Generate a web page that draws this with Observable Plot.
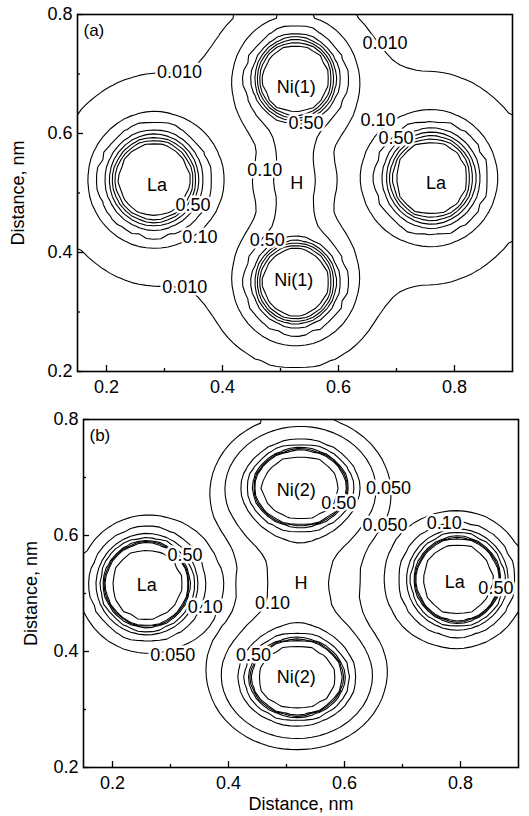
<!DOCTYPE html>
<html>
<head>
<meta charset="utf-8">
<script src="https://cdn.jsdelivr.net/npm/d3@7"></script>
<script src="https://cdn.jsdelivr.net/npm/@observablehq/plot@0.6"></script>
<style>
  body { margin: 0; background: #fff; }
  #chart { width: 529px; height: 816px; }
  #chart svg { display: block; }
</style>
</head>
<body>
<div id="chart"></div>
<script>
// ---------- axis ticks ----------
const majorTicks = [0.2, 0.4, 0.6, 0.8];
const minorTicks = [0.3, 0.5, 0.7];
const xDomain = [0.15, 0.9];
const yDomain = [0.2, 0.8];

// ---------- panel (a): atom sites ----------
const atomKindA = ["La", "La", "Ni", "Ni", "H"];
const atomXA = [0.282, 0.760, 0.526, 0.526, 0.524];
const atomYA = [0.522, 0.525, 0.692, 0.350, 0.521];
const atomStretchA = [1, 1, 1, 1, 0.72];       // vertical stretch of each site's rings
// contour levels drawn in (a)
const levelsA = [0.010, 0.050, 0.10, 0.50, 1.0, 1.5, 2.0, 2.5];
// radial density profiles read from ring radii (nm -> density)
const laRadiusA = [0, 0.063, 0.067, 0.071, 0.077, 0.084, 0.094, 0.114, 0.140, 0.180, 0.260, 0.400];
const laDensityA = [6, 2.5, 2.0, 1.5, 1.0, 0.5, 0.10, 0.05, 0.020, 0.0085, 0.002, 0];
const niRadiusA = [0, 0.058, 0.062, 0.066, 0.070, 0.075, 0.085, 0.106, 0.122, 0.142, 0.220, 0.350];
const niDensityA = [6, 2.5, 2.0, 1.5, 1.0, 0.5, 0.10, 0.05, 0.028, 0.010, 0.0015, 0];
const hRadiusA = [0, 0.043, 0.060, 0.072, 0.100, 0.150, 0.220];
const hDensityA = [0.12, 0.078, 0.052, 0.030, 0.011, 0.002, 0];
// labels in (a)
const labelTextA = ["0.010", "0.010", "0.50", "0.10", "0.50", "0.10", "0.50", "0.10", "0.50", "0.010"];
const labelXA = [0.326, 0.680, 0.544, 0.668, 0.699, 0.473, 0.349, 0.361, 0.477, 0.335];
const labelYA = [0.703, 0.751, 0.618, 0.622, 0.592, 0.538, 0.479, 0.425, 0.420, 0.341];
const atomLabelA = ["Ni(1)", "La", "H", "La", "Ni(1)"];
const atomLabelXA = [0.527, 0.287, 0.528, 0.768, 0.523];
const atomLabelYA = [0.677, 0.513, 0.516, 0.516, 0.353];

// ---------- panel (b): atom sites ----------
const atomKindB = ["La", "La", "Ni", "Ni", "H"];
const atomXB = [0.259, 0.795, 0.524, 0.518, 0.522];
const atomYB = [0.516, 0.524, 0.683, 0.355, 0.520];
const atomStretchB = [1, 1, 1.22, 1.22, 1];
const levelsB = [0.050, 0.10, 0.20, 0.30, 0.50, 0.60, 0.70, 1.5];
const laRadiusB = [0, 0.062, 0.070, 0.072, 0.074, 0.079, 0.087, 0.097, 0.118, 0.147, 0.200, 0.300, 0.400];
const laDensityB = [5, 1.5, 0.7, 0.6, 0.5, 0.3, 0.2, 0.1, 0.05, 0.012, 0.004, 0.0005, 0];
const niRadiusB = [0, 0.068, 0.077, 0.079, 0.082, 0.089, 0.100, 0.128, 0.155, 0.200, 0.300, 0.450];
const niDensityB = [5, 1.5, 0.7, 0.6, 0.5, 0.3, 0.2, 0.1, 0.045, 0.010, 0.0015, 0];
const hRadiusB = [0, 0.054, 0.116, 0.160, 0.250];
const hDensityB = [0.10, 0.080, 0.024, 0.006, 0];
const labelTextB = ["0.50", "0.050", "0.050", "0.10", "0.50", "0.50", "0.10", "0.10", "0.050", "0.50"];
const labelXB = [0.590, 0.676, 0.670, 0.772, 0.325, 0.861, 0.360, 0.476, 0.304, 0.443];
const labelYB = [0.655, 0.681, 0.617, 0.622, 0.566, 0.509, 0.476, 0.483, 0.393, 0.393];
const atomLabelB = ["Ni(2)", "La", "H", "La", "Ni(2)"];
const atomLabelXB = [0.517, 0.259, 0.525, 0.790, 0.517];
const atomLabelYB = [0.678, 0.514, 0.517, 0.519, 0.355];

// ---------- helpers ----------
function profile(rs, ds) {
  return r => {
    if (r <= rs[0]) return ds[0];
    for (let i = 1; i < rs.length; i++) {
      if (r <= rs[i]) {
        const t = (r - rs[i - 1]) / (rs[i] - rs[i - 1]);
        const a = ds[i - 1], b = ds[i];
        if (b <= 0) return a * (1 - t);
        return Math.exp(Math.log(a) * (1 - t) + Math.log(b) * t);
      }
    }
    return 0;
  };
}

function densityGrid(kinds, xs, ys, stretch, profiles, nx, ny) {
  const atoms = kinds.map((k, i) => ({f: profiles[k], x: xs[i], y: ys[i], s: stretch[i]}));
  const values = new Float64Array(nx * ny);
  const kx = (xDomain[1] - xDomain[0]) / nx, ky = (yDomain[1] - yDomain[0]) / ny;
  for (let j = 0; j < ny; j++) {
    const y = yDomain[0] + (j + 0.5) * ky;
    for (let i = 0; i < nx; i++) {
      const x = xDomain[0] + (i + 0.5) * kx;
      let s = 0;
      for (const a of atoms) s += a.f(Math.hypot(x - a.x, (y - a.y) * a.s));
      values[i + j * nx] = s;
    }
  }
  return values;
}

const font = "'Liberation Sans', Arial, Helvetica, sans-serif";
const fmt = d3.format(".1f");

function panel(opts) {
  const {width, height, marginLeft, marginRight, marginTop, marginBottom,
         kinds, xs, ys, stretch, profiles, levels, labels, atomLabels, panelName, yLabelOffset, xLabel} = opts;
  const nx = 60, ny = 48;
  const grid = densityGrid(kinds, xs, ys, stretch, profiles, nx, ny);
  const frameW = width - marginLeft - marginRight;
  const frameH = height - marginTop - marginBottom;
  return Plot.plot({
    width, height, marginLeft, marginRight, marginTop, marginBottom,
    style: {fontFamily: font, fontSize: "18px", background: "white", color: "black", overflow: "visible"},
    x: {domain: xDomain},
    y: {domain: yDomain},
    marks: [
      Plot.contour(grid, {
        width: nx, height: ny,
        x1: xDomain[0], x2: xDomain[1], y1: yDomain[0], y2: yDomain[1],
        thresholds: levels, stroke: "black", fill: "none", strokeWidth: 1.1
      }),
      Plot.text(labels, {x: "x", y: "y", text: "text", fontSize: 18, fill: "black",
        stroke: "white", strokeWidth: 5}),
      Plot.text(atomLabels, {x: "x", y: "y", text: "text", fontSize: 18, fill: "black",
        stroke: "white", strokeWidth: 4}),
      Plot.text([panelName], {frameAnchor: "top-left", dx: 6, dy: 9, fontSize: 17, fill: "black"}),
      Plot.tickX(majorTicks, {x: d => d, insetTop: frameH - 6, strokeWidth: 1.3}),
      Plot.tickX(minorTicks, {x: d => d, insetTop: frameH - 3, strokeWidth: 1.3}),
      Plot.tickY(majorTicks, {y: d => d, insetRight: frameW - 6, strokeWidth: 1.3}),
      Plot.tickY(minorTicks, {y: d => d, insetRight: frameW - 3, strokeWidth: 1.3}),
      Plot.frame({stroke: "black", strokeWidth: 1.6}),
      Plot.axisX({ticks: majorTicks, tickSize: 0, tickPadding: 9, tickFormat: fmt, fontSize: 18,
        label: xLabel, labelAnchor: "center", labelArrow: "none", labelOffset: 42}),
      Plot.axisY({ticks: majorTicks, tickSize: 0, tickPadding: 5, tickFormat: fmt, fontSize: 18,
        label: "Distance, nm", labelAnchor: "center", labelArrow: "none", labelOffset: yLabelOffset})
    ]
  });
}

const toRows = (t, x, y) => t.map((s, i) => ({text: s, x: x[i], y: y[i]}));

const plotA = panel({
  width: 529, height: 400, marginLeft: 77, marginRight: 17, marginTop: 14, marginBottom: 29,
  kinds: atomKindA, xs: atomXA, ys: atomYA, stretch: atomStretchA,
  profiles: {La: profile(laRadiusA, laDensityA), Ni: profile(niRadiusA, niDensityA), H: profile(hRadiusA, hDensityA)},
  levels: levelsA,
  labels: toRows(labelTextA, labelXA, labelYA),
  atomLabels: toRows(atomLabelA, atomLabelXA, atomLabelYA),
  panelName: "(a)", yLabelOffset: 66, xLabel: null
});
const plotB = panel({
  width: 529, height: 416, marginLeft: 83, marginRight: 11, marginTop: 19, marginBottom: 49,
  kinds: atomKindB, xs: atomXB, ys: atomYB, stretch: atomStretchB,
  profiles: {La: profile(laRadiusB, laDensityB), Ni: profile(niRadiusB, niDensityB), H: profile(hRadiusB, hDensityB)},
  levels: levelsB,
  labels: toRows(labelTextB, labelXB, labelYB),
  atomLabels: toRows(atomLabelB, atomLabelXB, atomLabelYB),
  panelName: "(b)", yLabelOffset: 59, xLabel: "Distance, nm"
});
document.getElementById("chart").append(plotA, plotB);
</script>
</body>
</html>
